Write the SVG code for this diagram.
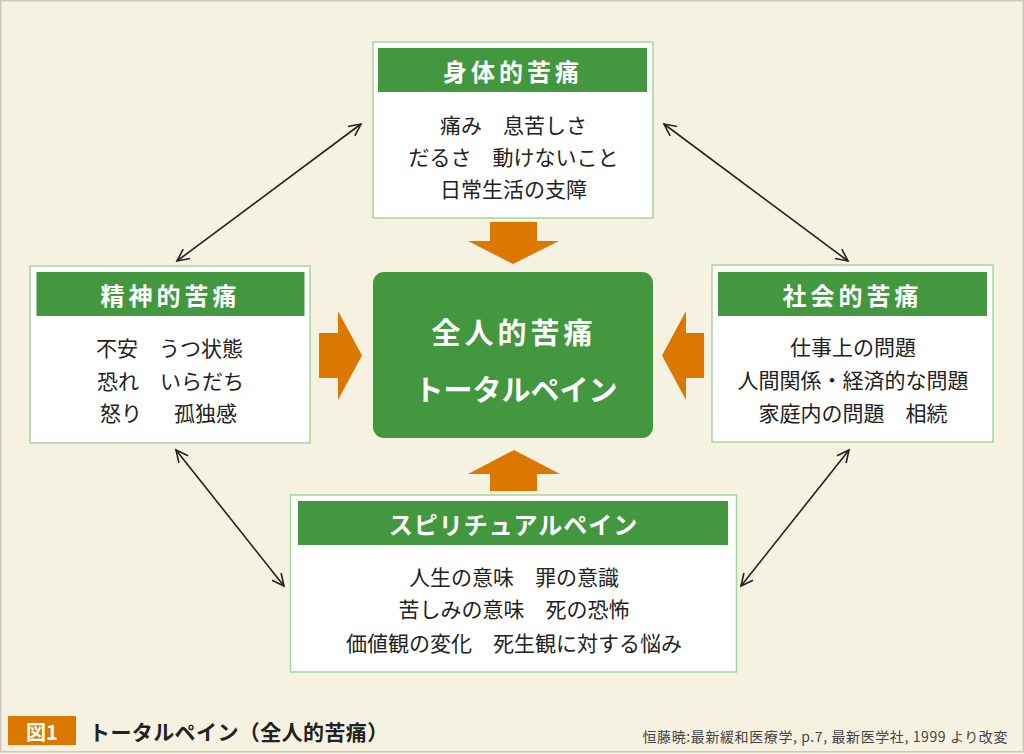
<svg xmlns="http://www.w3.org/2000/svg" width="1024" height="754" viewBox="0 0 1024 754">
  <defs>
    <style>
      .jp { font-family: "Noto Sans CJK JP", "Noto Sans", sans-serif; }
      .box { fill: #ffffff; stroke: #a9d3a0; stroke-width: 1.5; }
      .head { fill: #43973f; }
      .headtxt { font-size: 24px; font-weight: 700; fill: #ffffff; text-anchor: middle; dominant-baseline: central; }
      .body { font-size: 21px; fill: #222222; dominant-baseline: central; }
      .mid { text-anchor: middle; }
      .flow { fill: #dc7800; }
      .link { stroke: #222222; stroke-width: 1.6; fill: none; marker-start: url(#tip); marker-end: url(#tip); }
    </style>
    <marker id="tip" markerUnits="userSpaceOnUse" markerWidth="16" markerHeight="16" viewBox="0 0 16 16" refX="14" refY="8" orient="auto-start-reverse">
      <path d="M2,2.2 L14,8 L2,13.8" fill="none" stroke="#222222" stroke-width="1.6" stroke-linejoin="miter"/>
    </marker>
  </defs>

  <!-- page -->
  <rect x="0" y="0" width="1024" height="754" fill="#f6f2e1"/>
  <rect x="0.75" y="0.75" width="1022.5" height="751" fill="none" stroke="#cbc9c2" stroke-width="1.5"/>

  <!-- connectors -->
  <g id="connectors">
    <line class="link" x1="361" y1="124" x2="177" y2="261"/>
    <line class="link" x1="664" y1="124" x2="848" y2="261"/>
    <line class="link" x1="176" y1="450" x2="284" y2="586"/>
    <line class="link" x1="849" y1="450" x2="741" y2="586"/>
    <!-- block arrows into the centre -->
    <polygon class="flow" points="490,222 537,222 537,241 559,241 513,264 468,241 490,241"/>
    <polygon class="flow" points="490,491 537,491 537,474 560,474 514,450 468,474 490,474"/>
    <polygon class="flow" points="319,333 338,333 338,311 362,355.5 338,400 338,378 319,378"/>
    <polygon class="flow" points="704,333 686,333 686,311 662,355.5 686,400 686,378 704,378"/>
  </g>

  <!-- physical pain -->
  <g id="physical">
    <rect class="box" x="373" y="42" width="280" height="176"/>
    <rect class="head" x="378" y="48" width="269" height="44"/>
    <text class="jp headtxt" x="513" y="70" letter-spacing="4">身体的苦痛</text>
    <text class="jp body mid" x="513.5" y="124">痛み　息苦しさ</text>
    <text class="jp body mid" x="513.5" y="156">だるさ　動けないこと</text>
    <text class="jp body mid" x="513.5" y="188">日常生活の支障</text>
  </g>

  <!-- mental pain -->
  <g id="mental">
    <rect class="box" x="30" y="266" width="280" height="177"/>
    <rect class="head" x="36.5" y="272" width="268" height="44"/>
    <text class="jp headtxt" x="170.5" y="294" letter-spacing="4">精神的苦痛</text>
    <text class="jp body" x="96" y="347">不安　うつ状態</text>
    <text class="jp body" x="97" y="379.5">恐れ　いらだち</text>
    <text class="jp body" y="412"><tspan x="100">怒り</tspan><tspan x="174">孤独感</tspan></text>
  </g>

  <!-- social pain -->
  <g id="social">
    <rect class="box" x="712" y="265" width="281" height="177"/>
    <rect class="head" x="718" y="272" width="269" height="44"/>
    <text class="jp headtxt" x="852.5" y="294" letter-spacing="4">社会的苦痛</text>
    <text class="jp body mid" x="853" y="346">仕事上の問題</text>
    <text class="jp body mid" x="853" y="379">人間関係・経済的な問題</text>
    <text class="jp body mid" x="853" y="412">家庭内の問題　相続</text>
  </g>

  <!-- spiritual pain -->
  <g id="spiritual">
    <rect class="box" x="290.5" y="495" width="446" height="177"/>
    <rect class="head" x="298" y="501" width="430" height="44"/>
    <text class="jp headtxt" x="513.5" y="523" letter-spacing="1">スピリチュアルペイン</text>
    <text class="jp body mid" x="514" y="576">人生の意味　罪の意識</text>
    <text class="jp body mid" x="514" y="608">苦しみの意味　死の恐怖</text>
    <text class="jp body mid" x="514" y="642">価値観の変化　死生観に対する悩み</text>
  </g>

  <!-- total pain -->
  <g id="total">
    <rect x="373" y="272" width="280" height="166" rx="11" fill="#43973f"/>
    <text class="jp" x="514" y="331" font-size="29" font-weight="700" fill="#ffffff" text-anchor="middle" dominant-baseline="central" letter-spacing="4">全人的苦痛</text>
    <text class="jp" x="516" y="388" font-size="29" font-weight="700" fill="#ffffff" text-anchor="middle" dominant-baseline="central">トータルペイン</text>
  </g>

  <!-- caption -->
  <g id="caption">
    <rect x="8" y="716" width="68" height="29" fill="#dc7800"/>
    <text class="jp" x="42" y="731" font-size="20" font-weight="700" fill="#ffffff" text-anchor="middle" dominant-baseline="central">図1</text>
    <text class="jp" x="89" y="731" font-size="21" font-weight="700" fill="#222222" dominant-baseline="central" letter-spacing="0.4">トータルペイン（全人的苦痛）</text>
    <text class="jp" x="1008" y="736" font-size="14" fill="#444444" text-anchor="end" dominant-baseline="central" letter-spacing="0.6">恒藤暁:最新緩和医療学, p.7, 最新医学社, 1999 より改変</text>
  </g>
</svg>
